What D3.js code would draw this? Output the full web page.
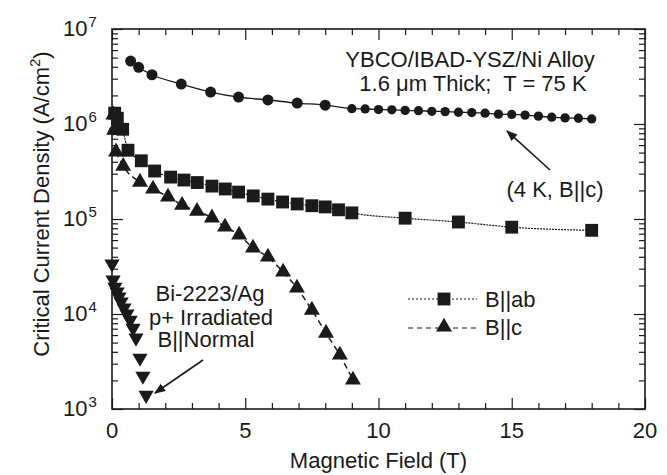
<!DOCTYPE html>
<html>
<head>
<meta charset="utf-8">
<script src="https://cdn.jsdelivr.net/npm/d3@7"></script>
<style>
	body { margin: 0; background: #fff; }
	svg text { font-family: "Liberation Sans", Arial, Helvetica, sans-serif; fill: #1a1a1a; }
</style>
</head>
<body>
<svg id="chart" width="667" height="475"></svg>
<script>
// data: field B (T), Jc (A/cm^2)
var circleB = [0.7, 1.0, 1.5, 2.6, 3.7, 4.75, 5.85, 6.95, 8.0,
	9.0, 9.5, 10.0, 10.5, 11.0, 11.5, 12.0, 12.5, 13.0, 13.5, 14.0,
	14.5, 15.0, 15.5, 16.0, 16.5, 17.0, 17.5, 18.0];
var circleJ = [4.6e6, 3.95e6, 3.3e6, 2.63e6, 2.17e6, 1.92e6, 1.79e6, 1.66e6, 1.58e6,
	1.45e6, 1.44e6, 1.42e6, 1.41e6, 1.39e6, 1.38e6, 1.36e6, 1.35e6, 1.33e6, 1.32e6, 1.30e6,
	1.27e6, 1.26e6, 1.24e6, 1.21e6, 1.18e6, 1.16e6, 1.15e6, 1.13e6];
var circleLoneB = [0.05];
var circleLoneJ = [8.5e5];

var squareB = [0.1, 0.2, 0.4, 0.6, 1.1, 1.6, 2.2, 2.7, 3.2, 3.75, 4.25, 4.75, 5.3,
	5.85, 6.4, 6.95, 7.5, 8.0, 8.5, 9.0, 11.0, 13.0, 15.0, 18.0];
var squareJ = [1.3e6, 1.15e6, 8.8e5, 5.3e5, 4.1e5, 3.2e5, 2.76e5, 2.57e5, 2.42e5, 2.22e5,
	2.07e5, 1.92e5, 1.75e5, 1.62e5, 1.51e5, 1.44e5, 1.38e5, 1.34e5, 1.25e5, 1.16e5,
	1.02e5, 9.3e4, 8.2e4, 7.6e4];

var triB = [0.05, 0.08, 0.15, 0.42, 1.05, 1.54, 2.1, 2.63, 3.19, 3.75, 4.24, 4.77, 5.29,
	5.85, 6.42, 6.94, 7.5, 8.03, 8.55, 9.04];
var triJ = [1.25e6, 8.6e5, 5.1e5, 3.6e5, 2.45e5, 2.07e5, 1.71e5, 1.4e5, 1.21e5, 1.03e5,
	8.25e4, 6.8e4, 4.95e4, 3.98e4, 2.77e4, 1.88e4, 1.1e4, 6.3e3, 3.7e3, 2.02e3];

var biB = [0.0, 0.04, 0.11, 0.19, 0.26, 0.34, 0.45, 0.56, 0.68, 0.79, 0.9, 1.05, 1.16, 1.28];
var biJ = [3.36e4, 2.28e4, 1.92e4, 1.71e4, 1.51e4, 1.34e4, 1.16e4, 1.0e4, 8.6e3, 7.1e3,
	5.6e3, 3.44e3, 2.22e3, 1.4e3];

var xMajor = [0, 5, 10, 15, 20];
var yExponents = [3, 4, 5, 6, 7];

(function () {
	var svg = d3.select("#chart");
	var pl = 112, pr = 645, pt = 29, pb = 409;
	var ink = "#1a1a1a";
	var fs = 22;

	var x = d3.scaleLinear().domain([0, 20]).range([pl, pr]);
	var y = d3.scaleLog().domain([1e3, 1e7]).range([pb, pt]);

	function zip(a, b) {
		return a.map(function (v, i) { return [v, b[i]]; });
	}

	// ticks (all pointing inward)
	var xMinor = d3.range(0, 21).filter(function (v) { return v % 5 !== 0; });
	var yMinor = [];
	yExponents.slice(0, -1).forEach(function (e) {
		for (var k = 2; k <= 9; k++) yMinor.push(k * Math.pow(10, e));
	});
	var yMajor = yExponents.map(function (e) { return Math.pow(10, e); });

	function drawAxis(axis, tr) {
		var g = svg.append("g").attr("transform", tr).call(axis);
		g.select(".domain").remove();
		g.selectAll("line").attr("stroke", ink).attr("stroke-width", 1.2);
		g.selectAll("text").remove();
	}
	var noLabel = function () { return ""; };
	drawAxis(d3.axisBottom(x).tickValues(xMajor).tickSize(-11).tickFormat(noLabel), "translate(0," + pb + ")");
	drawAxis(d3.axisBottom(x).tickValues(xMinor).tickSize(-6).tickFormat(noLabel), "translate(0," + pb + ")");
	drawAxis(d3.axisTop(x).tickValues(xMajor).tickSize(-11).tickFormat(noLabel), "translate(0," + pt + ")");
	drawAxis(d3.axisTop(x).tickValues(xMinor).tickSize(-6).tickFormat(noLabel), "translate(0," + pt + ")");
	drawAxis(d3.axisLeft(y).tickValues(yMajor).tickSize(-11).tickFormat(noLabel), "translate(" + pl + ",0)");
	drawAxis(d3.axisLeft(y).tickValues(yMinor).tickSize(-6).tickFormat(noLabel), "translate(" + pl + ",0)");
	drawAxis(d3.axisRight(y).tickValues(yMajor).tickSize(-11).tickFormat(noLabel), "translate(" + pr + ",0)");
	drawAxis(d3.axisRight(y).tickValues(yMinor).tickSize(-6).tickFormat(noLabel), "translate(" + pr + ",0)");

	svg.append("rect")
		.attr("x", pl).attr("y", pt)
		.attr("width", pr - pl).attr("height", pb - pt)
		.attr("fill", "none").attr("stroke", ink).attr("stroke-width", 1.6);

	// tick labels
	svg.append("g").selectAll("text").data(xMajor).enter().append("text")
		.attr("x", function (d) { return x(d); })
		.attr("y", pb + 29)
		.attr("text-anchor", "middle")
		.attr("font-size", fs)
		.text(function (d) { return d; });

	var yl = svg.append("g").selectAll("text").data(yExponents).enter().append("text")
		.attr("x", pl - 49)
		.attr("y", function (d) { return y(Math.pow(10, d)) + 7; })
		.attr("font-size", fs);
	yl.append("tspan").text("10");
	yl.append("tspan").attr("font-size", 15).attr("dx", 1).attr("dy", -9).text(function (d) { return d; });

	// axis titles
	svg.append("text")
		.attr("x", x(10)).attr("y", 468)
		.attr("text-anchor", "middle").attr("font-size", fs)
		.text("Magnetic Field (T)");

	var yt = svg.append("text")
		.attr("transform", "translate(49,204) rotate(-90)")
		.attr("text-anchor", "middle").attr("font-size", fs);
	yt.append("tspan").text("Critical Current Density (A/cm");
	yt.append("tspan").attr("font-size", 15).attr("dy", -9).text("2");
	yt.append("tspan").attr("dy", 9).text(")");

	// lines
	var line = d3.line()
		.x(function (d) { return x(d[0]); })
		.y(function (d) { return y(d[1]); })
		.curve(d3.curveMonotoneX);

	svg.append("path").datum(zip(circleB, circleJ)).attr("d", line)
		.attr("fill", "none").attr("stroke", ink).attr("stroke-width", 1.3);
	svg.append("path").datum(zip(squareB, squareJ).slice(1)).attr("d", line)
		.attr("fill", "none").attr("stroke", ink).attr("stroke-width", 1.2)
		.attr("stroke-dasharray", "2,1");
	svg.append("path").datum(zip(triB, triJ).slice(2)).attr("d", line)
		.attr("fill", "none").attr("stroke", ink).attr("stroke-width", 1.5)
		.attr("stroke-dasharray", "6,4");

	// markers
	var sym = {
		circle: d3.symbol().type(d3.symbolCircle).size(95),
		circleSmall: d3.symbol().type(d3.symbolCircle).size(68),
		square: d3.symbol().type(d3.symbolSquare).size(165),
		tri: d3.symbol().type(d3.symbolTriangle).size(110),
		triDown: d3.symbol().type(d3.symbolTriangle).size(100)
	};

	function markers(data, path, rot) {
		svg.append("g").selectAll("path").data(data).enter().append("path")
			.attr("d", path)
			.attr("transform", function (d) {
				return "translate(" + x(d[0]) + "," + y(d[1]) + ")" + (rot ? " rotate(180)" : "");
			})
			.attr("fill", ink);
	}

	var circles = zip(circleB, circleJ);
	markers(circles.filter(function (d) { return d[0] < 8.5; }), sym.circle);
	markers(circles.filter(function (d) { return d[0] >= 8.5; }), sym.circleSmall);
	markers(zip(circleLoneB, circleLoneJ), sym.circleSmall);
	markers(zip(squareB, squareJ), sym.square);
	markers(zip(triB, triJ), sym.tri);
	markers(zip(biB, biJ), sym.triDown, true);

	// annotations
	function label(tx, ty, str, anchor) {
		return svg.append("text").attr("x", tx).attr("y", ty)
			.attr("font-size", fs)
			.attr("text-anchor", anchor || "middle")
			.attr("xml:space", "preserve")
			.text(str);
	}
	label(470, 67, "YBCO/IBAD-YSZ/Ni Alloy");
	label(473, 91, "1.6 \u03bcm Thick;  T = 75 K");
	label(555, 197, "(4 K, B||c)");
	label(210, 301, "Bi-2223/Ag");
	label(211, 325, "p+ Irradiated");
	label(206, 347, "B||Normal");

	svg.append("defs").append("marker")
		.attr("id", "head").attr("viewBox", "0 0 10 10")
		.attr("refX", 9).attr("refY", 5)
		.attr("markerWidth", 7).attr("markerHeight", 7)
		.attr("orient", "auto")
		.append("path").attr("d", "M0,1 L10,5 L0,9 Z").attr("fill", ink);

	function arrow(x1, y1, x2, y2) {
		svg.append("line")
			.attr("x1", x1).attr("y1", y1).attr("x2", x2).attr("y2", y2)
			.attr("stroke", ink).attr("stroke-width", 1.6)
			.attr("marker-end", "url(#head)");
	}
	arrow(550, 170, 507, 131);
	arrow(203, 360, 155, 393);

	// legend
	var lg = svg.append("g");
	lg.append("line").attr("x1", 408).attr("x2", 477).attr("y1", 299).attr("y2", 299)
		.attr("stroke", ink).attr("stroke-width", 1.2).attr("stroke-dasharray", "2,2");
	lg.append("path").attr("d", sym.square).attr("transform", "translate(444,299)").attr("fill", ink);
	label(485, 307, "B||ab", "start");
	lg.append("line").attr("x1", 408).attr("x2", 477).attr("y1", 328).attr("y2", 328)
		.attr("stroke", ink).attr("stroke-width", 1.2).attr("stroke-dasharray", "5,4");
	lg.append("path").attr("d", sym.tri).attr("transform", "translate(444,327)").attr("fill", ink);
	label(485, 335, "B||c", "start");
})();
</script>
</body>
</html>
